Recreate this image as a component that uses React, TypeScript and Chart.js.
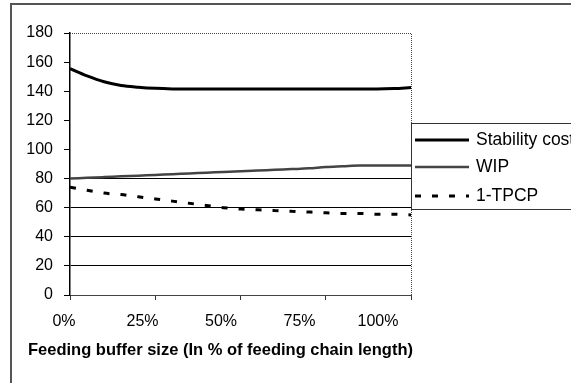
import React, { useEffect, useRef } from "react";
import { Chart, registerables } from "chart.js";

Chart.register(...registerables);

// Feeding buffer size, % of feeding chain length
const bufferPct = [0, 5, 10, 15, 20, 25, 30, 35, 40, 45, 50, 55, 60, 65, 70, 75, 80, 85, 90, 95, 100];
const stabilityCost = [155.5, 150.5, 146.5, 144, 142.8, 142, 141.6, 141.5, 141.5, 141.5, 141.5, 141.5, 141.5, 141.5, 141.5, 141.5, 141.5, 141.5, 141.5, 141.8, 142.5];
const wip = [80, 80.5, 81, 81.5, 82, 82.5, 83, 83.5, 84, 84.5, 85, 85.5, 86, 86.5, 87, 88, 88.5, 89, 89, 89, 89];
const oneMinusTpcp = [74, 72, 70, 69, 67.5, 66, 64.5, 63, 61.5, 60, 59, 58.5, 58, 57.5, 57, 56.5, 56, 56, 55.5, 55.5, 55];

const seriesNames = ["Stability cost", "WIP", "1-TPCP"];
const xTickLabels = ["0%", "25%", "50%", "75%", "100%"];
const axisTitle = "Feeding buffer size (In % of feeding chain length)";

const FONT = "'Liberation Sans', Arial, sans-serif";

const decorPlugin = {
  id: "decor",
  beforeDraw(chart: any) {
    const { ctx, width, height } = chart;
    ctx.save();
    ctx.fillStyle = "#fff";
    ctx.fillRect(0, 0, width, height);
    // outer frame (top and left edges)
    ctx.strokeStyle = "#555";
    ctx.lineWidth = 2;
    ctx.beginPath();
    ctx.moveTo(11, height);
    ctx.lineTo(11, 4);
    ctx.lineTo(width, 4);
    ctx.stroke();
    ctx.restore();
  },
  beforeDatasetsDraw(chart: any) {
    const { ctx, chartArea } = chart;
    ctx.save();
    // dotted top and right plot borders
    ctx.strokeStyle = "#444";
    ctx.lineWidth = 1;
    ctx.setLineDash([1, 1]);
    ctx.beginPath();
    ctx.moveTo(chartArea.left, chartArea.top + 0.5);
    ctx.lineTo(chartArea.right + 0.5, chartArea.top + 0.5);
    ctx.lineTo(chartArea.right + 0.5, chartArea.bottom);
    ctx.stroke();
    ctx.restore();
  },
  afterDraw(chart: any) {
    const { ctx, chartArea } = chart;
    ctx.save();
    // x tick labels
    ctx.fillStyle = "#000";
    ctx.font = `16px ${FONT}`;
    ctx.textAlign = "center";
    ctx.textBaseline = "middle";
    xTickLabels.forEach((lbl, i) => {
      ctx.fillText(lbl, chartArea.left - 6 + i * 78.5, 322);
    });
    // axis title
    ctx.font = `bold 16.5px ${FONT}`;
    ctx.textAlign = "left";
    ctx.fillText(axisTitle, 28, 350);

    // legend box
    const lx = chartArea.right;
    const ly = 123;
    const lh = 86;
    ctx.fillStyle = "#fff";
    ctx.fillRect(lx, ly, chart.width - lx + 2, lh);
    ctx.strokeStyle = "#333";
    ctx.lineWidth = 1;
    ctx.strokeRect(lx + 0.5, ly + 0.5, chart.width - lx + 5, lh);
    const rows = [140, 167, 196];
    chart.data.datasets.forEach((ds: any, i: number) => {
      const y = rows[i];
      ctx.strokeStyle = ds.borderColor;
      ctx.lineWidth = ds.borderWidth;
      ctx.setLineDash(ds.borderDash || []);
      ctx.beginPath();
      ctx.moveTo(lx + 4, y);
      ctx.lineTo(lx + 58, y);
      ctx.stroke();
      ctx.setLineDash([]);
      ctx.fillStyle = "#000";
      ctx.font = `17.5px ${FONT}`;
      ctx.textBaseline = "middle";
      ctx.fillText(ds.label, lx + 65, y);
    });
    ctx.restore();
  },
};

export default function App() {
  const canvasRef = useRef<HTMLCanvasElement | null>(null);

  useEffect(() => {
    const canvas = canvasRef.current;
    if (!canvas) return;
    const pts = (vals: number[]) => bufferPct.map((x, i) => ({ x, y: vals[i] }));
    const chart = new Chart(canvas, {
      type: "line",
      data: {
        datasets: [
          {
            label: seriesNames[0],
            data: pts(stabilityCost),
            borderColor: "#000",
            borderWidth: 3,
            pointRadius: 0,
            tension: 0.4,
            cubicInterpolationMode: "monotone",
          },
          {
            label: seriesNames[1],
            data: pts(wip),
            borderColor: "#444",
            borderWidth: 2.5,
            pointRadius: 0,
            tension: 0.4,
            cubicInterpolationMode: "monotone",
          },
          {
            label: seriesNames[2],
            data: pts(oneMinusTpcp),
            borderColor: "#000",
            borderWidth: 3,
            borderDash: [6, 11],
            pointRadius: 0,
            tension: 0.4,
            cubicInterpolationMode: "monotone",
          },
        ],
      },
      options: {
        animation: false,
        responsive: false,
        devicePixelRatio: 1,
        layout: { padding: { top: 33, right: 160, left: 0, bottom: 0 } },
        plugins: { legend: { display: false }, tooltip: { enabled: false } },
        scales: {
          x: {
            type: "linear",
            min: 0,
            max: 100,
            ticks: { stepSize: 25, display: false },
            grid: { drawOnChartArea: false, tickLength: 5, color: "#333" },
            border: { color: "#444", width: 1 },
            afterFit(scale: any) {
              scale.height = 88;
              scale.paddingLeft = 0;
              scale.paddingRight = 0;
            },
          },
          y: {
            min: 0,
            max: 180,
            ticks: {
              stepSize: 20,
              padding: 11,
              color: "#000",
              font: { family: FONT, size: 16 },
            },
            grid: {
              tickLength: 6,
              color: (c: any) =>
                c.tick && c.tick.value > 0 && c.tick.value <= 80 ? "#000" : "rgba(0,0,0,0)",
              tickColor: "#000",
            },
            border: { color: "#000", width: 1.5 },
            afterFit(scale: any) {
              scale.width = 70;
              scale.paddingTop = 0;
              scale.paddingBottom = 0;
            },
          },
        },
      },
      plugins: [decorPlugin],
    });
    return () => chart.destroy();
  }, []);

  return (
    <div style={{ position: "absolute", left: 0, top: 0, width: 571, height: 383 }}>
      <canvas ref={canvasRef} width={571} height={383} style={{ display: "block" }} />
    </div>
  );
}
